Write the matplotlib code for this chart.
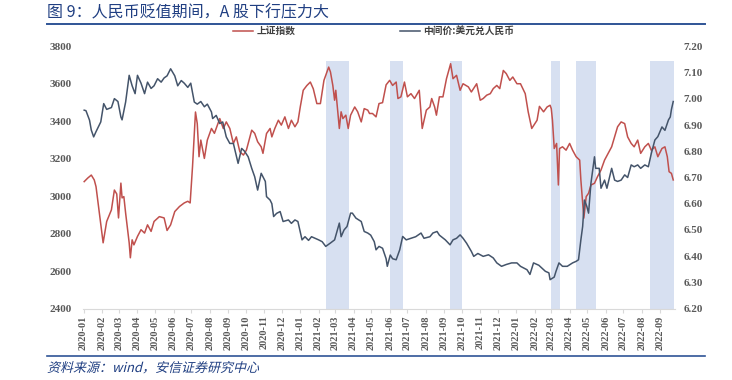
import matplotlib
matplotlib.use("Agg")
import matplotlib.pyplot as plt
import matplotlib.dates as mdates
import pandas as pd
from matplotlib.ticker import FormatStrFormatter, MultipleLocator
from matplotlib.textpath import TextPath
from matplotlib.patches import PathPatch
from matplotlib.font_manager import FontProperties
from matplotlib.transforms import Affine2D
from matplotlib.lines import Line2D

# 上证指数 (left axis)
sh_dates = [
    "2020-01-02", "2020-01-08", "2020-01-14", "2020-01-19", "2020-01-22", "2020-02-03",
    "2020-02-09", "2020-02-17", "2020-02-22", "2020-02-26", "2020-02-29", "2020-03-04",
    "2020-03-06", "2020-03-09", "2020-03-12", "2020-03-18", "2020-03-20", "2020-03-23",
    "2020-03-26", "2020-04-01", "2020-04-07", "2020-04-13", "2020-04-18", "2020-04-24",
    "2020-04-29", "2020-05-08", "2020-05-16", "2020-05-21", "2020-05-27", "2020-06-03",
    "2020-06-11", "2020-06-19", "2020-06-25", "2020-06-29", "2020-07-03", "2020-07-08",
    "2020-07-11", "2020-07-14", "2020-07-17", "2020-07-23", "2020-07-28", "2020-08-04",
    "2020-08-09", "2020-08-15", "2020-08-18", "2020-08-24", "2020-08-29", "2020-09-04",
    "2020-09-10", "2020-09-15", "2020-09-21", "2020-09-27", "2020-10-02", "2020-10-11",
    "2020-10-16", "2020-10-21", "2020-10-27", "2020-10-30", "2020-11-05", "2020-11-11",
    "2020-11-14", "2020-11-19", "2020-11-25", "2020-11-30", "2020-12-06", "2020-12-12",
    "2020-12-17", "2020-12-23", "2020-12-28", "2021-01-01", "2021-01-06", "2021-01-12",
    "2021-01-18", "2021-01-23", "2021-01-29", "2021-02-04", "2021-02-10", "2021-02-18",
    "2021-02-21", "2021-02-25", "2021-02-28", "2021-03-02", "2021-03-08", "2021-03-11",
    "2021-03-14", "2021-03-19", "2021-03-23", "2021-03-27", "2021-04-03", "2021-04-08",
    "2021-04-14", "2021-04-19", "2021-04-25", "2021-04-28", "2021-05-03", "2021-05-09",
    "2021-05-14", "2021-05-20", "2021-05-26", "2021-06-01", "2021-06-06", "2021-06-12",
    "2021-06-15", "2021-06-20", "2021-06-26", "2021-07-01", "2021-07-07", "2021-07-13",
    "2021-07-21", "2021-07-26", "2021-08-02", "2021-08-08", "2021-08-11", "2021-08-16",
    "2021-08-19", "2021-08-24", "2021-08-30", "2021-09-05", "2021-09-12", "2021-09-16",
    "2021-09-22", "2021-09-28", "2021-10-03", "2021-10-12", "2021-10-17", "2021-10-26",
    "2021-11-01", "2021-11-06", "2021-11-12", "2021-11-18", "2021-11-23", "2021-11-29",
    "2021-12-04", "2021-12-10", "2021-12-15", "2021-12-21", "2021-12-26", "2022-01-02",
    "2022-01-08", "2022-01-16", "2022-01-21", "2022-01-27", "2022-02-05", "2022-02-09",
    "2022-02-16", "2022-02-22", "2022-02-27", "2022-03-01", "2022-03-03", "2022-03-06",
    "2022-03-10", "2022-03-13", "2022-03-15", "2022-03-20", "2022-03-26", "2022-04-01",
    "2022-04-06", "2022-04-12", "2022-04-18", "2022-04-20", "2022-04-25", "2022-04-29",
    "2022-05-03", "2022-05-07", "2022-05-13", "2022-05-18", "2022-05-24", "2022-05-30",
    "2022-06-05", "2022-06-11", "2022-06-16", "2022-06-21", "2022-06-27", "2022-07-03",
    "2022-07-08", "2022-07-14", "2022-07-19", "2022-07-25", "2022-07-30", "2022-08-06",
    "2022-08-12", "2022-08-17", "2022-08-23", "2022-08-28", "2022-09-04", "2022-09-09",
    "2022-09-13", "2022-09-16", "2022-09-20", "2022-09-23",
]
sh_index = [
    3078, 3097, 3113, 3087, 3051, 2751,
    2865, 2927, 3033, 3012, 2884, 3070,
    2991, 2998, 2910, 2751, 2671, 2767,
    2740, 2785, 2821, 2803, 2847, 2812,
    2865, 2891, 2884, 2817, 2847, 2918,
    2945, 2964, 2973, 2964, 3158, 3450,
    3388, 3211, 3300, 3202, 3300, 3362,
    3336, 3388, 3415, 3362, 3397, 3362,
    3282, 3317, 3237, 3220, 3246, 3353,
    3336, 3291, 3264, 3229, 3335, 3362,
    3317, 3362, 3406, 3380, 3424, 3362,
    3406, 3371, 3397, 3477, 3566, 3591,
    3610, 3574, 3495, 3495, 3619, 3690,
    3664, 3592, 3513, 3566, 3362, 3451,
    3415, 3433, 3362, 3433, 3477, 3451,
    3397, 3468, 3460, 3442, 3442, 3424,
    3495, 3500, 3595, 3619, 3592, 3610,
    3522, 3531, 3610, 3531, 3548, 3522,
    3566, 3362, 3460, 3477, 3522, 3477,
    3433, 3531, 3531, 3628, 3708, 3628,
    3646, 3566, 3601, 3584, 3557, 3601,
    3513, 3522, 3540, 3548, 3575, 3592,
    3575, 3672, 3655, 3619, 3637, 3601,
    3601, 3548, 3451, 3362, 3406, 3480,
    3451, 3477, 3486, 3468, 3406, 3255,
    3282, 3060, 3255, 3264, 3246, 3282,
    3246, 3211, 3193, 3087, 2883, 2998,
    3016, 3060, 3069, 3104, 3140, 3193,
    3229, 3264, 3317, 3371, 3397, 3388,
    3317, 3282, 3264, 3300, 3229, 3264,
    3282, 3246, 3264, 3211, 3255, 3264,
    3211, 3131, 3122, 3087,
]

# 中间价:美元兑人民币 (right axis)
fx_dates = [
    "2020-01-02", "2020-01-05", "2020-01-11", "2020-01-14", "2020-01-18", "2020-01-22",
    "2020-01-30", "2020-02-04", "2020-02-09", "2020-02-17", "2020-02-22", "2020-02-28",
    "2020-03-04", "2020-03-06", "2020-03-12", "2020-03-18", "2020-03-23", "2020-03-28",
    "2020-04-01", "2020-04-07", "2020-04-13", "2020-04-18", "2020-04-24", "2020-04-29",
    "2020-05-05", "2020-05-11", "2020-05-16", "2020-05-21", "2020-05-27", "2020-06-03",
    "2020-06-08", "2020-06-14", "2020-06-19", "2020-06-25", "2020-06-30", "2020-07-06",
    "2020-07-11", "2020-07-17", "2020-07-23", "2020-07-28", "2020-08-04", "2020-08-06",
    "2020-08-12", "2020-08-18", "2020-08-23", "2020-08-29", "2020-09-04", "2020-09-10",
    "2020-09-14", "2020-09-18", "2020-09-24", "2020-09-29", "2020-10-05", "2020-10-11",
    "2020-10-16", "2020-10-21", "2020-10-27", "2020-11-03", "2020-11-05", "2020-11-11",
    "2020-11-14", "2020-11-17", "2020-11-22", "2020-11-28", "2020-12-03", "2020-12-12",
    "2020-12-17", "2020-12-23", "2020-12-28", "2021-01-04", "2021-01-09", "2021-01-15",
    "2021-01-20", "2021-01-26", "2021-02-01", "2021-02-07", "2021-02-13", "2021-02-21",
    "2021-02-28", "2021-03-08", "2021-03-11", "2021-03-16", "2021-03-21", "2021-03-27",
    "2021-03-30", "2021-04-05", "2021-04-14", "2021-04-19", "2021-04-25", "2021-04-30",
    "2021-05-06", "2021-05-09", "2021-05-14", "2021-05-20", "2021-05-26", "2021-05-28",
    "2021-06-02", "2021-06-06", "2021-06-12", "2021-06-18", "2021-06-23", "2021-06-29",
    "2021-07-07", "2021-07-15", "2021-07-24", "2021-07-29", "2021-08-08", "2021-08-13",
    "2021-08-20", "2021-08-24", "2021-09-03", "2021-09-11", "2021-09-16", "2021-09-22",
    "2021-09-28", "2021-10-03", "2021-10-09", "2021-10-17", "2021-10-21", "2021-10-28",
    "2021-11-06", "2021-11-15", "2021-11-23", "2021-11-29", "2021-12-07", "2021-12-15",
    "2021-12-24", "2022-01-02", "2022-01-08", "2022-01-19", "2022-01-24", "2022-01-30",
    "2022-02-08", "2022-02-19", "2022-02-25", "2022-02-27", "2022-03-06", "2022-03-09",
    "2022-03-14", "2022-03-20", "2022-03-28", "2022-04-06", "2022-04-12", "2022-04-16",
    "2022-04-20", "2022-04-23", "2022-04-26", "2022-04-30", "2022-05-03", "2022-05-07",
    "2022-05-13", "2022-05-15", "2022-05-21", "2022-05-24", "2022-05-30", "2022-06-03",
    "2022-06-11", "2022-06-16", "2022-06-21", "2022-06-27", "2022-07-03", "2022-07-08",
    "2022-07-14", "2022-07-19", "2022-07-25", "2022-07-30", "2022-08-06", "2022-08-12",
    "2022-08-17", "2022-08-23", "2022-08-28", "2022-09-04", "2022-09-09", "2022-09-15",
    "2022-09-18", "2022-09-20", "2022-09-23",
]
usd_cny = [
    6.957, 6.955, 6.919, 6.881, 6.855, 6.875,
    6.912, 6.982, 6.960, 6.967, 7.001, 6.990,
    6.931, 6.920, 6.988, 7.090, 7.050, 7.020,
    7.090, 7.060, 7.020, 7.064, 7.040, 7.050,
    7.077, 7.064, 7.080, 7.088, 7.115, 7.088,
    7.050, 7.070, 7.060, 7.044, 7.060, 6.988,
    6.980, 6.990, 6.970, 6.980, 6.950, 6.925,
    6.937, 6.906, 6.912, 6.855, 6.830, 6.830,
    6.792, 6.754, 6.811, 6.800, 6.779, 6.735,
    6.703, 6.652, 6.716, 6.685, 6.627, 6.614,
    6.600, 6.551, 6.563, 6.570, 6.532, 6.538,
    6.525, 6.538, 6.532, 6.462, 6.474, 6.460,
    6.474, 6.468, 6.462, 6.455, 6.437, 6.450,
    6.462, 6.526, 6.474, 6.500, 6.513, 6.564,
    6.564, 6.545, 6.532, 6.494, 6.488, 6.480,
    6.455, 6.424, 6.437, 6.430, 6.390, 6.361,
    6.404, 6.390, 6.386, 6.424, 6.475, 6.462,
    6.468, 6.474, 6.488, 6.468, 6.474, 6.488,
    6.494, 6.480, 6.462, 6.443, 6.462, 6.468,
    6.481, 6.468, 6.449, 6.418, 6.399, 6.410,
    6.399, 6.405, 6.393, 6.374, 6.361, 6.368,
    6.374, 6.374, 6.361, 6.348, 6.330, 6.374,
    6.365, 6.342, 6.336, 6.310, 6.320, 6.342,
    6.374, 6.361, 6.361, 6.374, 6.380, 6.386,
    6.462, 6.513, 6.614, 6.590, 6.564, 6.678,
    6.779, 6.735, 6.735, 6.659, 6.690, 6.659,
    6.735, 6.690, 6.685, 6.690, 6.710, 6.700,
    6.748, 6.741, 6.748, 6.735, 6.748, 6.741,
    6.792, 6.843, 6.856, 6.893, 6.880, 6.920,
    6.931, 6.960, 6.990,
]

# 人民币贬值期间 (shaded)
span_start = ["2021-02-13", "2021-06-01", "2021-09-11", "2022-03-01", "2022-04-11", "2022-08-14"]
span_end = ["2021-03-25", "2021-06-24", "2021-10-01", "2022-03-15", "2022-05-15", "2022-09-24"]

title = "图 9：人民币贬值期间，A 股下行压力大"
source = "资料来源：wind，安信证券研究中心"
legend_labels = ["上证指数", "中间价:美元兑人民币"]

red = "#C0504D"
navy = "#44546A"
shade = "#D7E0F1"
tick_grey = "#595959"
title_blue = "#203F82"

W, H = 732, 380
fig = plt.figure(figsize=(W / 100, H / 100), dpi=100)
ax = fig.add_axes([83 / W, 1 - 308.5 / H, (675 - 83) / W, (308.5 - 46.5) / H])
ax2 = ax.twinx()

for s, e in zip(pd.to_datetime(span_start), pd.to_datetime(span_end)):
    ax.axvspan(s, e, ymin=0, ymax=0.946, color=shade, lw=0, zorder=0)

ax.plot(pd.to_datetime(sh_dates), sh_index, color=red, lw=1.1, zorder=3)
ax2.plot(pd.to_datetime(fx_dates), usd_cny, color=navy, lw=1.1, zorder=3)

ax.set_xlim(pd.Timestamp("2019-12-31"), pd.Timestamp("2022-09-26"))
ax.set_ylim(2400, 3800)
ax2.set_ylim(6.2, 7.2)
ax.yaxis.set_major_locator(MultipleLocator(200))
ax2.yaxis.set_major_locator(MultipleLocator(0.1))
ax2.yaxis.set_major_formatter(FormatStrFormatter("%.2f"))

ax.xaxis.set_major_locator(mdates.MonthLocator())
ax.xaxis.set_major_formatter(mdates.DateFormatter("%Y-%m"))

tick_font = dict(family="Liberation Serif", weight="bold", size=8, color=tick_grey)
for a in (ax, ax2):
    for sp in a.spines.values():
        sp.set_visible(False)
ax.spines["bottom"].set_visible(True)
ax.spines["bottom"].set_color("#D9D9D9")

ax.tick_params(axis="y", length=0, pad=8)
ax2.tick_params(axis="y", length=0, pad=6)
ax.tick_params(axis="x", length=3, color="#D9D9D9", pad=2)
for lbl in ax.get_yticklabels() + ax2.get_yticklabels():
    lbl.set(**tick_font)
for lbl in ax.get_xticklabels():
    lbl.set(rotation=90, ha="center", va="top", **{**tick_font, "size": 7.5})

# legend drawn by hand to match position
cjk = ["Noto Sans CJK SC", "DejaVu Sans"]
fig.add_artist(Line2D([233 / W, 253 / W], [1 - 31 / H] * 2, color=red, lw=1.1))
fig.text(257 / W, 1 - 31 / H, legend_labels[0], family=cjk, weight="bold",
         size=7, color="#404040", va="center")
fig.add_artist(Line2D([400 / W, 420 / W], [1 - 31 / H] * 2, color=navy, lw=1.1))
fig.text(423 / W, 1 - 31 / H, legend_labels[1], family=cjk, weight="bold",
         size=7, color="#404040", va="center")

# title and rules
fig.text(47 / W, 1 - 13 / H, title, family=cjk, size=11.5, color=title_blue, va="center")
fig.add_artist(Line2D([47 / W, 705 / W], [1 - 24 / H] * 2, color="#2F5496", lw=1.4))
fig.add_artist(Line2D([47 / W, 705 / W], [1 - 356 / H] * 2, color="#2F5496", lw=1.2))

# slanted source note
fp = FontProperties(family="Noto Sans CJK SC")
tp = TextPath((0, 0), source, size=13, prop=fp)
fig.add_artist(PathPatch(tp, transform=Affine2D().skew_deg(14, 0).translate(47, H - 372),
                         color=title_blue, lw=0))

fig.savefig("out.png", dpi=100)
